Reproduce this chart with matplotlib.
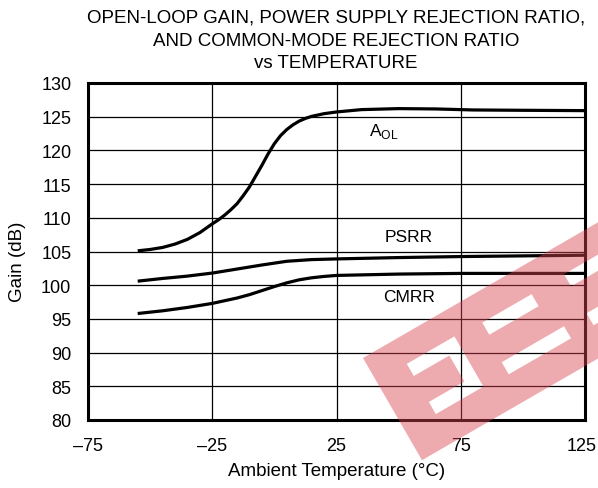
import matplotlib.pyplot as plt
from matplotlib.patches import PathPatch
from matplotlib.path import Path
from matplotlib.transforms import ScaledTranslation
import numpy as np

plt.rcParams['font.family'] = ['Liberation Sans', 'DejaVu Sans']

temp_aol = [-55, -50, -45, -40, -35, -30, -25, -22.5, -20, -17.5, -15, -12.5, -10, -7.5, -5, -2.5, 0, 2.5, 5, 7.5, 10, 12.5, 15, 20, 25, 35, 50, 65, 80, 100, 125]
aol = [105.1, 105.3, 105.6, 106.1, 106.8, 107.8, 109.1, 109.7, 110.4, 111.2, 112.1, 113.3, 114.6, 116.2, 117.8, 119.5, 121.0, 122.2, 123.1, 123.8, 124.35, 124.75, 125.05, 125.45, 125.7, 126.05, 126.2, 126.15, 126.0, 125.95, 125.9]

temp_psrr = [-55, -45, -35, -25, -15, -5, 5, 15, 25, 50, 75, 100, 125]
psrr = [100.6, 101.0, 101.35, 101.8, 102.4, 103.0, 103.55, 103.8, 103.9, 104.1, 104.25, 104.35, 104.45]

temp_cmrr = [-55, -45, -35, -25, -15, -10, -5, 0, 5, 10, 15, 20, 25, 50, 75, 100, 125]
cmrr = [95.8, 96.2, 96.7, 97.3, 98.1, 98.6, 99.2, 99.8, 100.35, 100.8, 101.1, 101.3, 101.45, 101.65, 101.75, 101.75, 101.75]

xticks = [-75, -25, 25, 75, 125]
yticks = list(range(80, 131, 5))

W, H = 598, 489
fig = plt.figure(figsize=(W / 100, H / 100), dpi=100)
ax = fig.add_axes([88 / W, 1 - 421 / H, (585 - 88) / W, (421 - 84) / H])

ax.plot(temp_aol, aol, color='black', lw=2.3, solid_capstyle='butt', zorder=3)
ax.plot(temp_psrr, psrr, color='black', lw=2.3, solid_capstyle='butt', zorder=3)
ax.plot(temp_cmrr, cmrr, color='black', lw=2.3, solid_capstyle='butt', zorder=3)

ax.set_xlim(-75, 125)
ax.set_ylim(80, 130)
ax.set_xticks(xticks)
ax.set_xticklabels([str(t).replace('-', '\u2013') for t in xticks])
ax.set_yticks(yticks)
ax.tick_params(length=0, labelsize=13)
ax.tick_params(axis='x', pad=12)
ax.tick_params(axis='y', pad=12)
ax.grid(True, color='black', lw=0.9)
ax.set_axisbelow(True)
for s in ax.spines.values():
    s.set_linewidth(2.2)

# last x label sits a little left so it stays on the page
last = ax.get_xticklabels()[-1]
last.set_transform(last.get_transform() + ScaledTranslation(-3 / 100, 0, fig.dpi_scale_trans))

ax.text(38, 122.9, r'A$_{\mathregular{OL}}$', fontsize=12.5, ha='left', va='center')
ax.text(54, 107.2, 'PSRR', fontsize=12.5, ha='center', va='center')
ax.text(54, 98.3, 'CMRR', fontsize=12.5, ha='center', va='center',
        bbox=dict(facecolor='white', edgecolor='none', pad=1.5), zorder=4)

ax.set_xlabel('Ambient Temperature (\u00b0C)', fontsize=13.5)
ax.xaxis.set_label_coords(0.5, -(463 - 421) / 337)
ax.set_ylabel('Gain (dB)', fontsize=13.5)
ax.yaxis.set_label_coords(-(88 - 26) / 497, 1 - (262 - 84) / 337)

fig.text(336 / W, 1 - 18 / H, 'OPEN-LOOP GAIN, POWER SUPPLY REJECTION RATIO,', ha='center', va='center', fontsize=13.5)
fig.text(336 / W, 1 - 41 / H, 'AND COMMON-MODE REJECTION RATIO', ha='center', va='center', fontsize=13.5)
fig.text(336 / W, 1 - 63 / H, 'vs TEMPERATURE', ha='center', va='center', fontsize=13.5)

# watermark band with cut-outs (pixel coords from top-left)
p0 = np.array([363.0, 359.0])
u = np.array([0.866, -0.5])
v = np.array([0.5, 0.866])


def rect(u0, u1, v0, v1, rev=False):
    pts = [p0 + a * u + b * v for a, b in [(u0, v0), (u1, v0), (u1, v1), (u0, v1)]]
    if rev:
        pts = pts[::-1]
    return [(x / W, 1 - y / H) for x, y in pts]


holes = [(35, 90, 27, 41), (76, 90, 41, 71), (35, 90, 71, 85),
         (121, 178, 29, 43), (118, 190, 73, 87),
         (216, 290, 28, 42), (216, 290, 73, 87)]
verts, codes = [], []
for r in [rect(0, 320, 0, 118)] + [rect(*c, rev=True) for c in holes]:
    verts += r + [r[0]]
    codes += [Path.MOVETO, Path.LINETO, Path.LINETO, Path.LINETO, Path.CLOSEPOLY]
fig.patches.append(PathPatch(Path(verts, codes), transform=fig.transFigure,
                             facecolor='#d9434f', edgecolor='none', alpha=0.45, zorder=10))

fig.savefig('out.png', dpi=100)
